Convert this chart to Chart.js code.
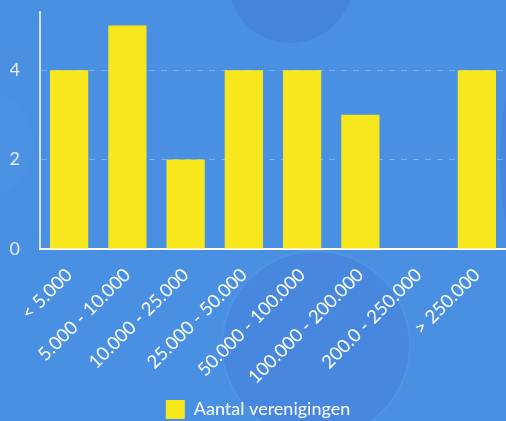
<!DOCTYPE html>
<html>
<head>
<meta charset="utf-8">
<script src="https://cdn.jsdelivr.net/npm/chart.js@4"></script>
<style>
  html, body { margin: 0; padding: 0; }
  body { width: 506px; height: 421px; background: #4a90e2; position: relative; overflow: hidden; font-family: Lato, sans-serif; }
  .blob { position: absolute; border-radius: 50%; }
  #chartContainer { position: absolute; left: 0; top: 0; width: 506px; height: 421px; }
</style>
</head>
<body>
<div class="blob" style="left:228px; top:-82px; width:125px; height:125px; background:#4584dc;"></div>
<div class="blob" style="left:-78px; top:88px; width:112px; height:112px; background:#4b92e4;"></div>
<div class="blob" style="left:223px; top:252px; width:186px; height:186px; background:#4787de; box-shadow:0 0 0 2px rgba(255,255,255,0.04);"></div>
<div class="blob" style="left:500px; top:40px; width:80px; height:240px; background:#4686dd;"></div>
<div id="chartContainer"><canvas id="myChart" width="506" height="421"></canvas></div>
<script>
var categories = ["< 5.000", "5.000 - 10.000", "10.000 - 25.000", "25.000 - 50.000", "50.000 - 100.000", "100.000 - 200.000", "200.0 - 250.000", "> 250.000"];
var aantal = [4, 5, 2, 4, 4, 3, 0, 4];
var seriesName = "Aantal verenigingen";

var ctx = document.getElementById('myChart').getContext('2d');
var chart = new Chart(ctx, {
  type: 'bar',
  data: {
    labels: categories,
    datasets: [{
      label: seriesName,
      data: aantal,
      backgroundColor: '#f8e71c',
      borderWidth: 0,
      categoryPercentage: 0.8,
      barPercentage: 0.82
    }]
  },
  options: {
    responsive: false,
    animation: false,
    layout: { padding: { top: 12, left: 10, right: 0, bottom: -8 } },
    scales: {
      x: {
        grid: { display: false, drawTicks: false },
        border: { color: '#ffffff', width: 2 },
        ticks: {
          color: '#ffffff',
          font: { family: 'Lato', size: 18.5 },
          minRotation: 45,
          maxRotation: 45,
          padding: 15
        },
        afterFit: function(scale) {
          scale.paddingLeft = 0;
          scale.paddingRight = 0;
          scale.height = 147;
        }
      },
      y: {
        min: 0,
        max: 5.3,
        grid: { color: 'rgba(255,255,255,0.3)', drawTicks: false, lineWidth: 1 },
        border: { color: 'rgba(255,255,255,0.75)', width: 2, dash: [6, 6] },
        ticks: {
          stepSize: 2,
          includeBounds: false,
          color: '#e6eefa',
          font: { family: 'Lato', size: 18 },
          padding: 20
        },
        afterFit: function(scale) {
          scale.width = 30;
          scale.paddingTop = 0;
          scale.paddingBottom = 0;
        }
      }
    },
    plugins: {
      legend: {
        position: 'bottom',
        labels: {
          color: '#ffffff',
          font: { family: 'Lato', size: 18 },
          boxWidth: 19,
          boxHeight: 19,
          padding: 4
        }
      },
      tooltip: { enabled: false }
    }
  }
});
</script>
</body>
</html>
